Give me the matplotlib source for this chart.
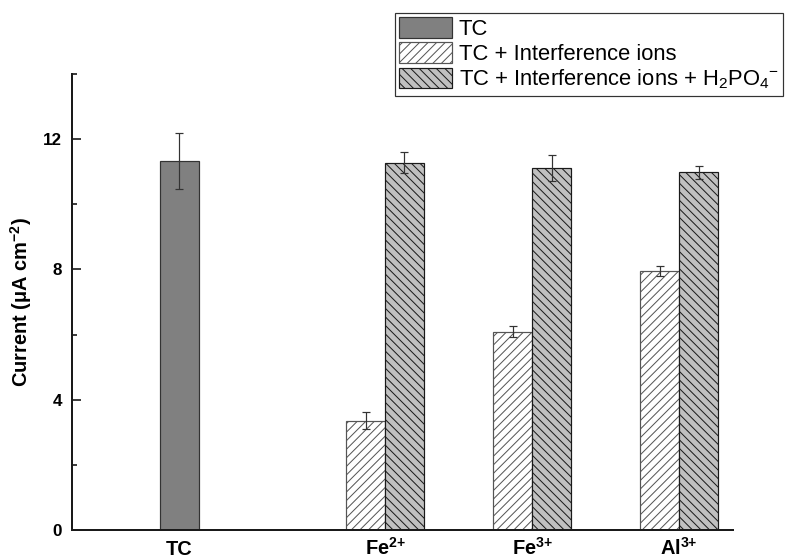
import numpy as np
import matplotlib
matplotlib.use("Agg")
import matplotlib.pyplot as plt

# data
categories = ['TC', 'Fe$^{2{+}}$', 'Fe$^{3{+}}$', 'Al$^{3{+}}$']
tc_value = [11.33]
tc_err = [0.87]
interf_values = [3.36, 6.09, 7.95]
interf_err = [0.26, 0.16, 0.16]
h2po4_values = [11.28, 11.11, 10.99]
h2po4_err = [0.33, 0.41, 0.20]

# dpi 77 so that the hatch spacing matches the reference
DPI = 77
PT = 72 / DPI  # pixels -> points

plt.rcParams['font.family'] = ['Liberation Sans', 'DejaVu Sans']
plt.rcParams['mathtext.default'] = 'regular'
plt.rcParams['hatch.linewidth'] = 1.0 * PT
plt.rcParams['hatch.color'] = '#1a1a1a'

fig = plt.figure(figsize=(795 / DPI, 558 / DPI), dpi=DPI)
ax = fig.add_axes([72 / 795, 28 / 558, 661 / 795, 456 / 558])

x_pos = np.array([0.6, 2, 3, 4])
w = 0.265
err_kw = dict(ecolor='#333333', elinewidth=1.2 * PT, capsize=4 * PT, capthick=1.2 * PT)

ax.bar(x_pos[0], tc_value, w, yerr=tc_err, color='#808080', edgecolor='#333333',
       linewidth=1.2 * PT, error_kw=err_kw, label='TC')
ax.bar(x_pos[1:] - w / 2, interf_values, w, yerr=interf_err, color='white', edgecolor='#555555',
       hatch='///', linewidth=1.2 * PT, error_kw=err_kw, label='TC + Interference ions')
ax.bar(x_pos[1:] + w / 2, h2po4_values, w, yerr=h2po4_err, color='#c0c0c0', edgecolor='#1a1a1a',
       hatch='\\\\\\', linewidth=1.2 * PT, error_kw=err_kw,
       label='TC + Interference ions + H$_2$PO$_4$$^{-}$')

ax.set_xlim(-0.129, 4.367)
ax.set_ylim(0, 14)
ax.set_yticks([0, 4, 8, 12])
ax.set_yticks([2, 6, 10, 14], minor=True)
ax.set_xticks(x_pos)
ax.set_xticklabels(categories, fontsize=20 * PT, fontweight='bold', va='baseline')
ax.tick_params(axis='x', length=0, pad=25 * PT)
ax.tick_params(axis='y', which='major', direction='in', length=9 * PT, width=1.5 * PT,
               labelsize=17 * PT, pad=10 * PT)
ax.tick_params(axis='y', which='minor', direction='in', length=4.5 * PT, width=1.5 * PT)
for lab in ax.get_yticklabels():
    lab.set_fontweight('bold')

ax.set_ylabel('Current ($\\mu$A cm$^{-2}$)', fontsize=20 * PT, fontweight='bold', labelpad=9 * PT)

for s in ['top', 'right']:
    ax.spines[s].set_visible(False)
for s in ['left', 'bottom']:
    ax.spines[s].set_linewidth(2 * PT)
    ax.spines[s].set_color('#1a1a1a')

leg = fig.legend(loc='upper left', bbox_to_anchor=(395 / 795, 1 - 12.7 / 558),
                 fontsize=22 * PT, frameon=True, fancybox=False, edgecolor='black',
                 handlelength=2.4, handleheight=1.05, handletextpad=0.3,
                 labelspacing=0.12, borderpad=0.2, borderaxespad=0)
leg.get_frame().set_linewidth(1.2 * PT)

fig.savefig('out.png', dpi=DPI)
